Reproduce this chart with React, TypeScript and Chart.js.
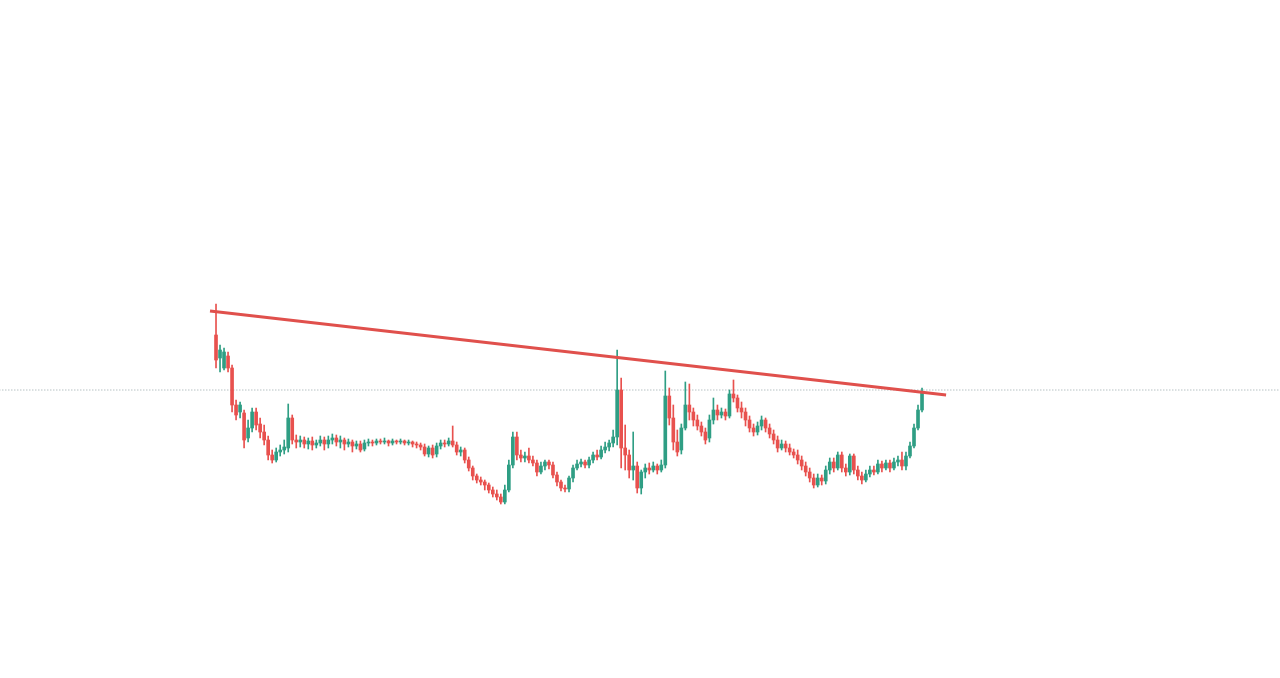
import { useEffect, useRef } from "react";
import { Chart, ChartConfiguration, registerables } from "chart.js";
Chart.register(...registerables);

// one candle per session, prices in chart units
const candleOpen = [
  665, 642, 632, 644, 632, 595, 588, 587, 562, 572, 588, 576, 568, 560, 545, 540, 548, 550, 552, 582,
  560, 558, 560, 556, 559, 555, 557, 560, 556, 560, 562, 558, 560, 556, 558, 554, 556, 551, 557, 558,
  557, 559, 558, 559, 557, 559, 558, 559, 557, 558, 556, 555, 553, 546, 552, 546, 554, 557, 556, 559,
  555, 548, 550, 540, 532, 524, 520, 518, 515, 510, 506, 503, 498, 510, 535, 563, 545, 542, 544, 540,
  537, 528, 534, 538, 535, 525, 518, 512, 511, 522, 532, 536, 538, 535, 540, 545, 543, 550, 553, 557,
  563, 610, 552, 545, 530, 534, 512, 528, 532, 530, 534, 530, 535, 604, 582, 558, 550, 572, 595, 588,
  580, 574, 568, 562, 580, 590, 585, 588, 584, 606, 602, 592, 588, 580, 572, 568, 574, 580, 572, 566,
  560, 552, 556, 552, 548, 545, 540, 534, 528, 522, 515, 522, 519, 530, 538, 532, 545, 532, 528, 544,
  530, 524, 520, 526, 530, 528, 536, 532, 537, 532, 538, 540, 534, 544, 554, 572, 590,
];
const candleClose = [
  640, 650, 648, 632, 595, 585, 595, 560, 572, 588, 575, 568, 560, 545, 540, 548, 550, 553, 582, 560,
  558, 560, 556, 559, 555, 557, 560, 556, 560, 562, 558, 560, 556, 558, 554, 556, 550, 557, 558, 557,
  559, 558, 559, 557, 559, 558, 559, 557, 558, 556, 555, 553, 546, 552, 545, 554, 557, 556, 559, 555,
  548, 550, 540, 532, 524, 520, 518, 515, 510, 506, 503, 498, 510, 535, 563, 545, 542, 544, 540, 537,
  528, 534, 538, 535, 525, 518, 512, 511, 522, 532, 536, 538, 535, 540, 545, 543, 550, 553, 557, 563,
  610, 552, 545, 530, 534, 512, 528, 532, 530, 534, 530, 535, 604, 582, 558, 548, 572, 595, 588, 580,
  574, 568, 560, 580, 590, 585, 588, 584, 606, 602, 592, 588, 580, 572, 568, 574, 580, 572, 566, 560,
  552, 556, 552, 548, 545, 540, 534, 528, 522, 515, 522, 519, 530, 538, 532, 545, 532, 528, 544, 530,
  524, 520, 526, 530, 528, 536, 532, 537, 532, 538, 540, 534, 544, 554, 572, 590, 608,
];
const candleHigh = [
  696, 655, 652, 648, 635, 600, 598, 590, 580, 592, 592, 582, 575, 564, 550, 552, 555, 560, 596, 585,
  565, 564, 563, 562, 563, 560, 564, 563, 564, 566, 565, 564, 562, 561, 560, 559, 559, 560, 561, 560,
  561, 561, 562, 560, 561, 560, 561, 560, 560, 559, 558, 557, 556, 554, 555, 557, 560, 560, 562, 574,
  558, 553, 552, 543, 534, 526, 523, 520, 517, 513, 510, 506, 515, 540, 568, 568, 550, 548, 552, 544,
  540, 538, 540, 540, 538, 528, 520, 515, 524, 535, 540, 541, 540, 543, 548, 550, 554, 558, 560, 570,
  650, 622, 575, 550, 568, 538, 530, 536, 537, 538, 536, 540, 629, 612, 595, 570, 576, 618, 616, 592,
  585, 578, 572, 585, 602, 595, 592, 591, 610, 620, 605, 598, 592, 584, 576, 578, 584, 582, 576, 570,
  564, 560, 559, 556, 551, 550, 544, 538, 532, 526, 526, 525, 534, 542, 542, 548, 548, 536, 546, 546,
  534, 528, 530, 534, 534, 540, 539, 540, 540, 542, 544, 548, 548, 558, 576, 595, 612,
];
const candleLow = [
  632, 628, 630, 628, 588, 580, 582, 552, 558, 568, 570, 562, 555, 540, 537, 538, 544, 546, 548, 556,
  552, 553, 552, 551, 550, 552, 554, 550, 552, 556, 554, 552, 550, 553, 548, 551, 548, 549, 554, 554,
  555, 556, 556, 554, 555, 556, 556, 555, 555, 553, 552, 550, 544, 543, 542, 543, 551, 553, 554, 553,
  545, 544, 537, 529, 520, 517, 515, 510, 507, 503, 500, 496, 496, 508, 532, 540, 538, 538, 537, 534,
  524, 526, 530, 531, 522, 514, 509, 508, 508, 518, 530, 533, 532, 532, 537, 540, 541, 547, 549, 553,
  555, 532, 530, 522, 520, 507, 506, 522, 526, 528, 526, 528, 532, 575, 550, 544, 546, 570, 580, 574,
  570, 564, 556, 558, 576, 580, 582, 580, 582, 598, 588, 582, 574, 568, 564, 565, 570, 568, 562, 556,
  548, 550, 548, 545, 542, 536, 530, 524, 518, 512, 513, 515, 516, 526, 528, 530, 528, 524, 525, 526,
  520, 516, 518, 523, 525, 526, 528, 530, 528, 530, 534, 530, 530, 542, 552, 570, 588,
];

// resistance line drawn over the highs, and the current price level
const trendX = [-1.5, 182];
const trendY = [689, 605];
const priceLevel = 610;

const UP = "#2f9e84";
const DOWN = "#e8514e";

export default function App() {
  const ref = useRef<HTMLCanvasElement>(null);

  useEffect(() => {
    const idx = candleOpen.map((_, i) => i);
    const colors = idx.map((i) => (candleClose[i] >= candleOpen[i] ? UP : DOWN));

    const config: ChartConfiguration = {
      type: "bar",
      data: {
        datasets: [
          {
            type: "line",
            data: [
              { x: -60, y: priceLevel },
              { x: 270, y: priceLevel },
            ],
            borderColor: "#93a3a6",
            borderWidth: 1,
            borderDash: [1, 2],
            pointRadius: 0,
            order: 3,
          } as any,
          {
            type: "bar",
            data: idx.map((i) => ({ x: i, y: [candleLow[i], candleHigh[i]] })),
            backgroundColor: colors,
            barThickness: 1,
            grouped: false,
            order: 2,
          } as any,
          {
            type: "bar",
            data: idx.map((i) => ({ x: i, y: [candleOpen[i], candleClose[i]] })),
            backgroundColor: colors,
            barThickness: 3,
            grouped: false,
            order: 1,
          } as any,
          {
            type: "line",
            data: trendX.map((x, i) => ({ x, y: trendY[i] })),
            borderColor: "#e0504c",
            borderWidth: 3,
            pointRadius: 0,
            order: 0,
          } as any,
        ],
      },
      options: {
        animation: false,
        responsive: true,
        maintainAspectRatio: false,
        layout: { padding: 0 },
        plugins: { legend: { display: false }, tooltip: { enabled: false } },
        scales: {
          x: { type: "linear", min: -53.85, max: 265.24, offset: false, display: false },
          y: { min: 322, max: 1000, display: false },
        },
      },
    };
    const chart = new Chart(ref.current!, config);
    return () => {
      chart.destroy();
    };
  }, []);

  return (
    <div
      style={{ position: "fixed", left: 0, top: 0, width: 1280, height: 678, background: "#fff" }}
    >
      <canvas ref={ref}></canvas>
    </div>
  );
}
